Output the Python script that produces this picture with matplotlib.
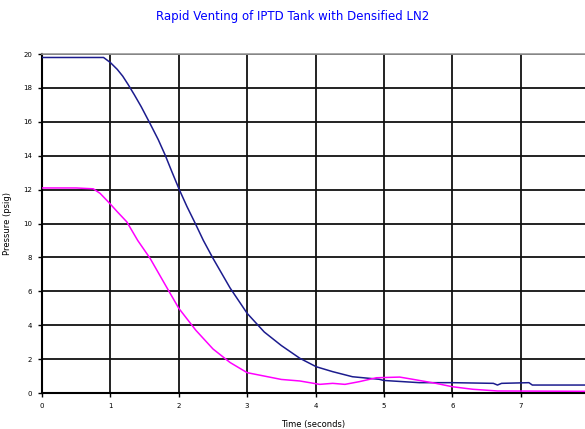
import matplotlib
matplotlib.use("Agg")
import matplotlib.pyplot as plt

# densified LN2 tank pressures
t_upper = [0.0, 0.5, 0.9, 1.0, 1.1, 1.18, 1.26, 1.35, 1.45, 1.58, 1.7, 1.8, 1.9, 2.01, 2.12, 2.23, 2.36, 2.5,
           2.75, 3.0, 3.25, 3.5, 3.77, 4.01, 4.25, 4.54, 4.93, 5.0, 5.52, 6.0, 6.6, 6.66, 6.72,
           7.12, 7.17, 7.94]
p_upper = [19.8, 19.8, 19.8, 19.5, 19.1, 18.7, 18.2, 17.6, 16.9, 15.9, 14.95, 14.05, 13.05, 11.98, 11.0, 10.1,
           9.0, 7.95, 6.2, 4.7, 3.6, 2.8, 2.05, 1.55, 1.26, 0.96, 0.81, 0.74, 0.61, 0.61, 0.57,
           0.47, 0.57, 0.61, 0.47, 0.47]

t_lower = [0.0, 0.5, 0.75, 0.85, 0.99, 1.1, 1.24, 1.4, 1.58, 1.8, 2.0, 2.25, 2.5, 2.75, 3.0, 3.25,
           3.5, 3.77, 4.06, 4.25, 4.43, 4.64, 4.89, 5.23, 5.42, 5.76, 6.0, 6.3, 6.66, 7.94]
p_lower = [12.1, 12.1, 12.05, 11.78, 11.19, 10.7, 10.1, 9.0, 7.95, 6.4, 5.0, 3.7, 2.6, 1.8, 1.2, 1.0,
           0.8, 0.71, 0.51, 0.57, 0.51, 0.67, 0.9, 0.94, 0.81, 0.57, 0.37, 0.22, 0.12, 0.1]

x_ticks = [0, 1, 2, 3, 4, 5, 6, 7]
y_ticks = [0, 2, 4, 6, 8, 10, 12, 14, 16, 18, 20]

fig = plt.figure(figsize=(5.85, 4.29), dpi=100)
ax = fig.add_axes([0.0718, 0.0839, 0.9282, 0.790])

ax.plot(t_upper, p_upper, color="#1c1c8e", linewidth=1.1, zorder=3)
ax.plot(t_lower, p_lower, color="#ff00ff", linewidth=1.1, zorder=3)

ax.set_xlim(0, 7.94)
ax.set_ylim(0, 20)
ax.set_xticks(x_ticks)
ax.set_yticks(y_ticks)
ax.tick_params(labelsize=5, length=3, width=1, color="black", pad=4)
ax.grid(True, color="#111111", linewidth=1.3)
ax.set_axisbelow(True)

for side in ["left", "bottom"]:
    ax.spines[side].set_color("black")
    ax.spines[side].set_linewidth(1.5)
ax.spines["top"].set_color("#999999")
ax.spines["top"].set_linewidth(1.2)
ax.spines["right"].set_visible(False)

ax.set_xlabel("Time (seconds)", fontsize=6, labelpad=8)
ax.set_ylabel("Pressure (psig)", fontsize=6, labelpad=8)
fig.text(0.5, 0.962, "Rapid Venting of IPTD Tank with Densified LN2", color="#0000ff",
         fontsize=8.5, ha="center", va="center")

plt.savefig("out.png", dpi=100)
